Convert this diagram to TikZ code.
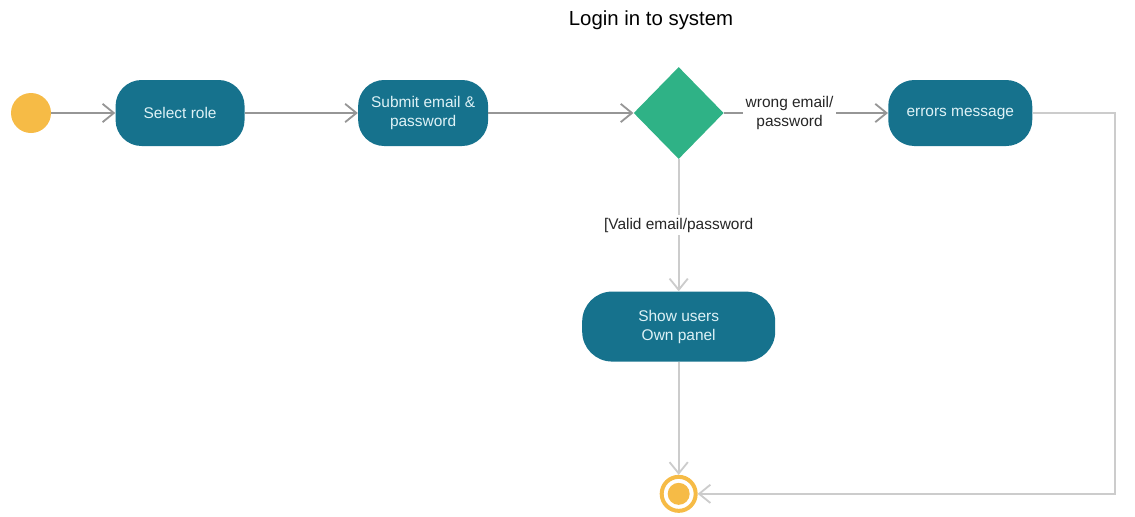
\documentclass[tikz,border=0pt]{standalone}
\usepackage{fontspec}
\setmainfont{Liberation Sans}
\usetikzlibrary{positioning,shapes.geometric,arrows.meta}
\definecolor{startyellow}{RGB}{246,187,70}
\definecolor{actteal}{RGB}{22,114,141}
\definecolor{acttext}{RGB}{222,242,246}
\definecolor{decgreen}{RGB}{47,178,134}
\definecolor{flowgray}{RGB}{150,150,150}
\definecolor{flowlight}{RGB}{204,204,204}

\begin{document}
\begin{tikzpicture}[node distance=1.5cm,>={Straight Barb[length=8pt,width=13pt]}]
	\tikzstyle{action}=[fill=actteal,text=acttext,rounded corners=0.65cm,minimum height=1.65cm,align=center,font=\fontsize{11}{13.5}\selectfont]
	\tikzstyle{decision}=[diamond,fill=decgreen,minimum width=2.25cm,minimum height=2.3cm,inner sep=0pt]
	\tikzstyle{initial}=[circle,fill=startyellow,minimum size=1cm,inner sep=0pt]
	\tikzstyle{final}=[circle,draw=startyellow,line width=0.1cm,minimum size=0.85cm,inner sep=0pt,
		path picture={\fill[startyellow] (path picture bounding box.center) circle (0.275cm);}]
	\tikzstyle{flow}=[draw=flowgray,line width=1.3pt]
	\tikzstyle{back}=[draw=flowlight,line width=1.3pt]
	\tikzstyle{guard}=[fill=white,inner sep=2pt,align=center,text=black!85,font=\fontsize{11}{13.5}\selectfont]
		\useasboundingbox (0,0) rectangle (28.375,-12.9);
		\node (title) at (16.275,-0.5) {\fontsize{14.5}{17}\selectfont Login in to system};
		\node[initial] (start) at (0.775,-2.825) {};
		\node[action, minimum width=3.225cm, right=1.6cm of start] (role) {Select role};
		\node[action, minimum width=3.25cm, right=2.825cm of role] (submit) {Submit email \&\\ password};
		\node[decision, right=3.625cm of submit] (check) {};
		\node[action, minimum width=3.6cm, right=4.1cm of check, text depth=0.3ex] (error) {errors message};
		\node[action, minimum width=4.825cm, minimum height=1.75cm, rounded corners=0.75cm, below=3.3cm of check] (panel) {Show users\\ Own panel};
		\node[final, below=2.825cm of panel] (stop) {};
		\coordinate (turn) at (27.875,0);
			\draw[flow,->] (start) edge (role);
			\draw[flow,->] (role) edge (submit);
			\draw[flow,->] (submit) edge (check);
			\draw[flow,->] (check) edge node[guard, pos=0.4] {wrong email/\\ password} (error);
			\draw[back,->] (check) edge node[guard] {[Valid email/password} (panel);
			\draw[back,->] (panel) edge (stop);
			\draw[back,->] (error) -| (turn |- stop) -- (stop);
\end{tikzpicture}
\end{document}
